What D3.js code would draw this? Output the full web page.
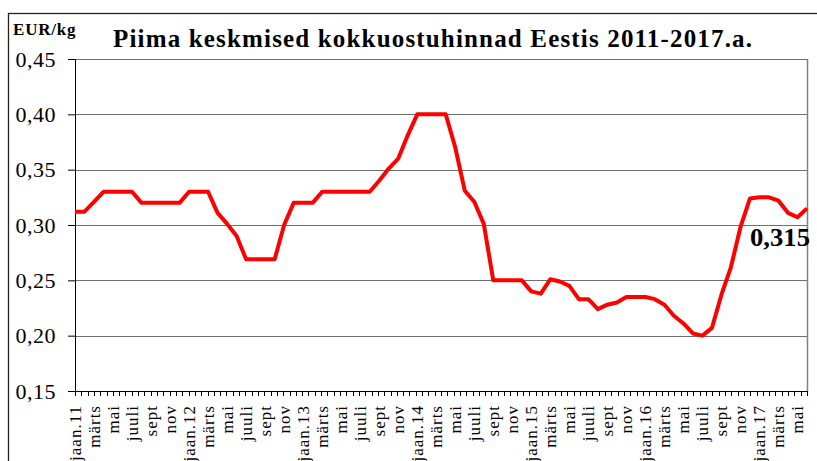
<!DOCTYPE html>
<html>
<head>
<meta charset="utf-8">
<script src="https://cdnjs.cloudflare.com/ajax/libs/d3/7.8.5/d3.min.js"></script>
<style>
    body { margin: 0; background: #ffffff; }
    svg { display: block; font-family: "Liberation Serif", "Times New Roman", serif; }
</style>
</head>
<body>
<svg id="milk_svg" width="817" height="461"></svg>
<script>
// monthly average milk purchase price, jaan.2011 .. juuni.2017 (EUR/kg)
var priceValues = [
    0.312, 0.312, 0.321, 0.330, 0.330, 0.330, 0.330, 0.320, 0.320, 0.320, 0.320, 0.320,
    0.330, 0.330, 0.330, 0.311, 0.301, 0.290, 0.269, 0.269, 0.269, 0.269, 0.300, 0.320,
    0.320, 0.320, 0.330, 0.330, 0.330, 0.330, 0.330, 0.330, 0.340, 0.351, 0.360, 0.381,
    0.400, 0.400, 0.400, 0.400, 0.370, 0.331, 0.321, 0.301, 0.250, 0.250, 0.250, 0.250,
    0.240, 0.238, 0.251, 0.249, 0.245, 0.233, 0.233, 0.224, 0.228, 0.230, 0.235, 0.235,
    0.235, 0.233, 0.228, 0.218, 0.211, 0.202, 0.200, 0.207, 0.237, 0.262, 0.298, 0.324,
    0.325, 0.325, 0.322, 0.311, 0.307, 0.315
];
var yearLabels = ["11", "12", "13", "14", "15", "16", "17"];
var monthLabels = ["jaan", "märts", "mai", "juuli", "sept", "nov"];
var yTickValues = [0.15, 0.20, 0.25, 0.30, 0.35, 0.40, 0.45];
var lastValueLabel = "0,315";
var titleText = "Piima keskmised kokkuostuhinnad Eestis 2011-2017.a.";
var unitText = "EUR/kg";

function drawMilkChart() {
    var svg = d3.select("#milk_svg");
    var margin = { top: 59, left: 75, right: 10, bottom: 70 };
    var innerWidth = 807 - margin.left;
    var innerHeight = 391 - margin.top;

    // outer frame of the chart
    svg.append("rect")
        .attr("x", 8.5)
        .attr("y", 13.5)
        .attr("width", 830)
        .attr("height", 470)
        .attr("fill", "none")
        .attr("stroke", "#222")
        .attr("stroke-width", 1.3);

    var g = svg.append("g")
        .attr("transform", "translate(" + margin.left + "," + margin.top + ")");

    var x = d3.scaleLinear()
        .domain([0, priceValues.length - 1])
        .range([0, innerWidth]);

    var y = d3.scaleLinear()
        .domain([0.15, 0.45])
        .range([innerHeight, 0]);

    // horizontal gridlines
    g.selectAll(".grid")
        .data(yTickValues.slice(1))
        .enter()
        .append("line")
        .attr("class", "grid")
        .attr("x1", 0)
        .attr("x2", innerWidth)
        .attr("y1", d => Math.round(y(d)) + 0.5)
        .attr("y2", d => Math.round(y(d)) + 0.5)
        .attr("stroke", "#6e6e6e")
        .attr("stroke-width", 1);

    // right border of plot area
    g.append("line")
        .attr("x1", innerWidth + 0.5)
        .attr("x2", innerWidth + 0.5)
        .attr("y1", y(0.45))
        .attr("y2", innerHeight)
        .attr("stroke", "#808080")
        .attr("stroke-width", 1.5);

    // y axis
    var yAxis = g.append("g")
        .call(d3.axisLeft(y)
            .tickValues(yTickValues)
            .tickSize(7)
            .tickPadding(12)
            .tickFormat(d => d3.format(".2f")(d).replace(".", ",")));
    yAxis.selectAll("text")
        .style("font-family", "'Liberation Serif', 'Times New Roman', serif")
        .style("font-size", "22px")
        .style("letter-spacing", "0.5px")
        .attr("fill", "#000");
    yAxis.selectAll("line").attr("stroke", "#000");
    yAxis.select(".domain").attr("stroke", "#000");

    // x axis: minor ticks and month labels
    var tickCount = 116;
    var tickPos = d3.range(0, tickCount + 1).map(k => k * (priceValues.length - 1) / tickCount);
    var xAxis = g.append("g")
        .attr("transform", "translate(0," + innerHeight + ")");
    xAxis.append("line")
        .attr("x1", -7)
        .attr("x2", innerWidth)
        .attr("y1", 0.5)
        .attr("y2", 0.5)
        .attr("stroke", "#000");
    xAxis.selectAll(".xtick")
        .data(tickPos)
        .enter()
        .append("line")
        .attr("class", "xtick")
        .attr("x1", d => Math.round(x(d)) + 0.5)
        .attr("x2", d => Math.round(x(d)) + 0.5)
        .attr("y1", 0)
        .attr("y2", 5)
        .attr("stroke", "#000");

    var labelData = [];
    for (var i = 0; i < priceValues.length; i += 2) {
        var m = monthLabels[(i % 12) / 2];
        var lbl = m === "jaan" ? m + "." + yearLabels[Math.floor(i / 12)] : m;
        labelData.push({ idx: i, label: lbl });
    }
    xAxis.selectAll(".xlabel")
        .data(labelData)
        .enter()
        .append("text")
        .attr("class", "xlabel")
        .attr("transform", d => "translate(" + (x(d.idx) + 5.5) + ",14) rotate(-90)")
        .attr("text-anchor", "end")
        .style("font-size", "17px")
        .style("letter-spacing", "1px")
        .text(d => d.label);

    // price line
    var line = d3.line()
        .x((d, i) => x(i))
        .y(d => y(d));

    g.append("path")
        .datum(priceValues)
        .attr("fill", "none")
        .attr("stroke", "#ff0000")
        .attr("stroke-width", 4)
        .attr("stroke-linejoin", "round")
        .attr("d", line);

    // label of the last value
    g.append("text")
        .attr("x", x(priceValues.length - 1) + 3)
        .attr("y", y(priceValues[priceValues.length - 1]) + 38)
        .attr("text-anchor", "end")
        .attr("textLength", 60)
        .attr("lengthAdjust", "spacingAndGlyphs")
        .style("font-size", "26px")
        .style("font-weight", "bold")
        .text(lastValueLabel);

    // title and unit
    svg.append("text")
        .attr("x", 113)
        .attr("y", 47)
        .attr("textLength", 639)
        .attr("lengthAdjust", "spacing")
        .style("font-size", "25px")
        .style("font-weight", "bold")
        .text(titleText);

    svg.append("text")
        .attr("x", 13)
        .attr("y", 35)
        .style("font-size", "17px")
        .style("font-weight", "bold")
        .style("letter-spacing", "0.8px")
        .text(unitText);
}

drawMilkChart();
</script>
</body>
</html>
